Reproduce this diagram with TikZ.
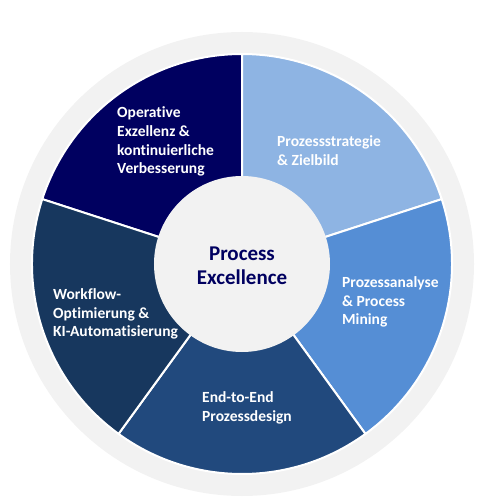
\documentclass[tikz,border=0pt]{standalone}
\usepackage{fontspec}
\setmainfont{Carlito}[Ligatures=NoCommon]

\definecolor{ringgray}{HTML}{F2F2F2}
\definecolor{navyA}{HTML}{000060}
\definecolor{blueB}{HTML}{8EB4E3}
\definecolor{blueC}{HTML}{558ED5}
\definecolor{blueD}{HTML}{21497D}
\definecolor{blueE}{HTML}{17375E}

\begin{document}
\begin{tikzpicture}[x=1pt,y=1pt,line join=round,
  seglabel/.style={text=white,font=\bfseries\fontsize{15.5}{18.8}\selectfont,
    align=left,anchor=west,inner sep=0pt},
  corelabel/.style={text=navyA,font=\bfseries\fontsize{21}{24}\selectfont,
    align=center,inner sep=0pt}]

% raios
\def\Rring{232}  % anel cinza
\def\R{210}      % setores
\def\Rin{88}     % círculo central

\useasboundingbox (-242,-236) rectangle (258,264);

%---------------------------
% anel externo
%---------------------------
\fill[ringgray] (0,0) circle[radius=\Rring];

%---------------------------
% setores
%---------------------------
\foreach \a/\c in {90/navyA,18/blueB,-54/blueC,-126/blueD,162/blueE}{
  \filldraw[fill=\c,draw=white,line width=2pt]
    (0,0) -- (\a:\R) arc[start angle=\a,end angle=\a+72,radius=\R] -- cycle;
}

%---------------------------
% círculo central
%---------------------------
\fill[ringgray] (0,0) circle[radius=\Rin];
\node[corelabel] (core) at (0,-2) {Process\\Excellence};

%---------------------------
% rótulos dos setores
%---------------------------
\node[seglabel] (opex) at (-125,122.5)
  {Operative\\Exzellenz \&\\kontinuierliche\\Verbesserung};
\node[seglabel] (strat) at (35,113.5) {Prozessstrategie\\\& Zielbild};
\node[seglabel] (analyse) at (100,-38) {Prozessanalyse\\\& Process\\Mining};
\node[seglabel] (design) at (-40,-143.5) {End-to-End\\Prozessdesign};
\node[seglabel] (workflow) at (-189,-50)
  {Workflow-\\Optimierung \&\\KI-Automatisierung};

\end{tikzpicture}
\end{document}
